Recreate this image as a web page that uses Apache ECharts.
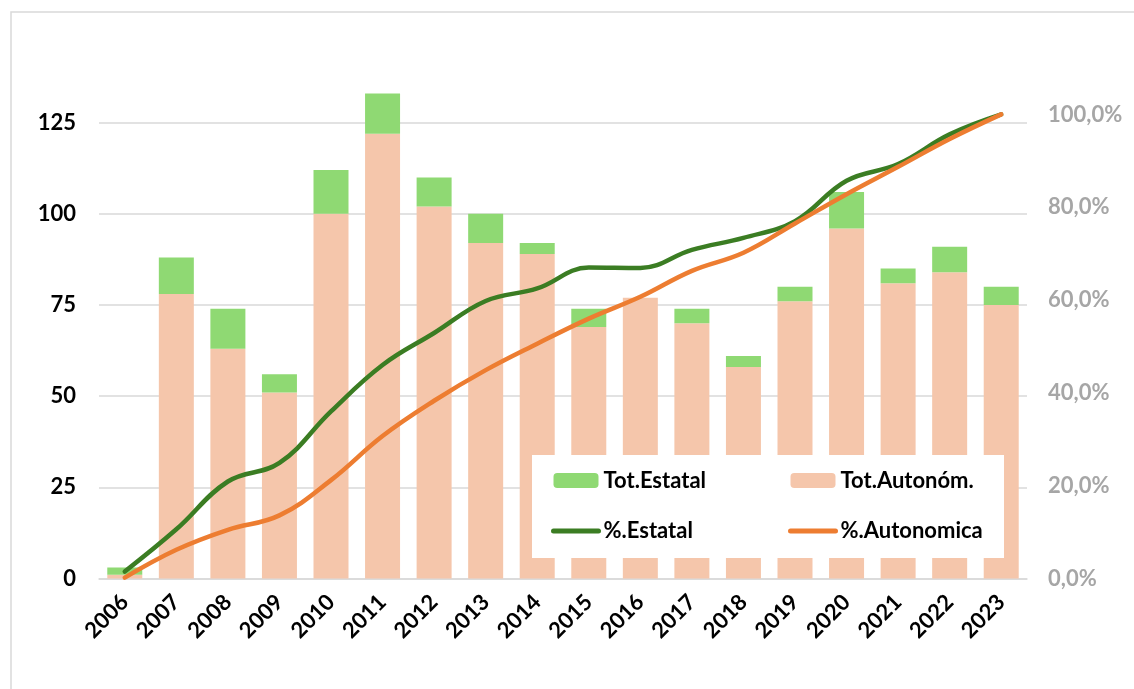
<!DOCTYPE html>
<html>
<head>
<meta charset="utf-8">
<script src="https://cdn.jsdelivr.net/npm/echarts@6/dist/echarts.min.js"></script>
<style>
html,body{margin:0;padding:0;background:#fff;}
#chart{width:1134px;height:689px;}
</style>
</head>
<body>
<div id="chart"></div>
<script>
// ---- data ----
const years = ['2006','2007','2008','2009','2010','2011','2012','2013','2014','2015','2016','2017','2018','2019','2020','2021','2022','2023'];
const totAutonomica = [1, 78, 63, 51, 100, 122, 102, 92, 89, 69, 77, 70, 58, 76, 96, 81, 84, 75];
const totEstatal    = [2, 10, 11, 5, 12, 11, 8, 8, 3, 5, 0, 4, 3, 4, 10, 4, 7, 5];
const pctEstatal    = [0.015, 0.106, 0.209, 0.249, 0.360, 0.460, 0.529, 0.598, 0.625, 0.670, 0.669, 0.708, 0.734, 0.770, 0.857, 0.893, 0.957, 1.000];
const pctAutonomica = [0.002, 0.062, 0.105, 0.136, 0.212, 0.307, 0.383, 0.449, 0.506, 0.560, 0.607, 0.663, 0.702, 0.765, 0.828, 0.887, 0.947, 1.000];
const leftTicks = {min: 0, max: 140, interval: 25};
const rightTicks = {min: 0, max: 1.1, interval: 0.2};

const FONT = 'Lato, Carlito, Calibri, sans-serif';
const FS = 22;
const chart = echarts.init(document.getElementById('chart'), null, {renderer: 'canvas'});

const legendText = {fontFamily: FONT, fontWeight: 'bold', fontSize: FS, color: '#000', lineHeight: 26};
const lineLegend = (name, color) => ({
  name: name,
  itemStyle: {color: 'rgba(0,0,0,0)', borderWidth: 0, opacity: 0},
  lineStyle: {color: color, width: 5, cap: 'round'}
});

chart.setOption({
  animation: false,
  backgroundColor: '#fff',
  grid: {left: 99, right: 107, top: 68, bottom: 110.5, containLabel: false},
  graphic: [
    {type: 'rect', z: 0, silent: true,
     shape: {x: 11, y: 12, width: 1300, height: 900},
     style: {fill: 'none', stroke: '#D9D9D9', lineWidth: 1.5}},
    {type: 'rect', z: 10, silent: true,
     shape: {x: 532, y: 455, width: 472, height: 103},
     style: {fill: '#ffffff'}}
  ],
  legend: [
    {z: 20, orient: 'vertical', left: 551, top: 467.5, padding: 0,
     itemWidth: 45, itemHeight: 15, itemGap: 24.5,
     textStyle: legendText,
     data: ['Tot.Estatal', lineLegend('%.Estatal', '#3B7D23')]},
    {z: 20, orient: 'vertical', left: 788, top: 467.5, padding: 0,
     itemWidth: 45, itemHeight: 15, itemGap: 24.5,
     textStyle: legendText,
     data: ['Tot.Autonóm.', lineLegend('%.Autonomica', '#ED7D31')]}
  ],
  xAxis: {
    type: 'category',
    data: years,
    axisTick: {show: false},
    axisLine: {show: true, lineStyle: {color: '#D9D9D9', width: 1.5}},
    axisLabel: {rotate: 45, margin: 20, fontFamily: FONT, fontWeight: 'bold', fontSize: FS, color: '#000', interval: 0}
  },
  yAxis: [
    {type: 'value', min: leftTicks.min, max: leftTicks.max, interval: leftTicks.interval,
     axisLine: {show: false}, axisTick: {show: false},
     splitLine: {show: true, showMaxLine: false, lineStyle: {color: '#D9D9D9', width: 1.5}},
     axisLabel: {showMaxLabel: false, margin: 23, fontFamily: FONT, fontWeight: 'bold', fontSize: FS, color: '#000'}},
    {type: 'value', min: rightTicks.min, max: rightTicks.max, interval: rightTicks.interval, position: 'right',
     axisLine: {show: false}, axisTick: {show: false}, splitLine: {show: false},
     axisLabel: {showMaxLabel: false, margin: 21, fontFamily: FONT, fontWeight: 'bold', fontSize: FS, color: '#A6A6A6',
       formatter: v => (v * 100).toFixed(1).replace('.', ',') + '%'}}
  ],
  series: [
    {name: 'Tot.Autonóm.', type: 'bar', stack: 'tot', data: totAutonomica, barWidth: 35,
     itemStyle: {color: '#F5C6AB'}, z: 2},
    {name: 'Tot.Estatal', type: 'bar', stack: 'tot', data: totEstatal, barWidth: 35,
     itemStyle: {color: '#8FD973'}, z: 2},
    {name: '%.Estatal', type: 'line', yAxisIndex: 1, data: pctEstatal, smooth: 0.4,
     symbol: 'none', showSymbol: false, z: 3,
     lineStyle: {color: '#3B7D23', width: 4.5, cap: 'round'}, itemStyle: {color: '#3B7D23'}},
    {name: '%.Autonomica', type: 'line', yAxisIndex: 1, data: pctAutonomica, smooth: 0.4,
     symbol: 'none', showSymbol: false, z: 4,
     lineStyle: {color: '#ED7D31', width: 4.5, cap: 'round'}, itemStyle: {color: '#ED7D31'}}
  ]
});
</script>
</body>
</html>
